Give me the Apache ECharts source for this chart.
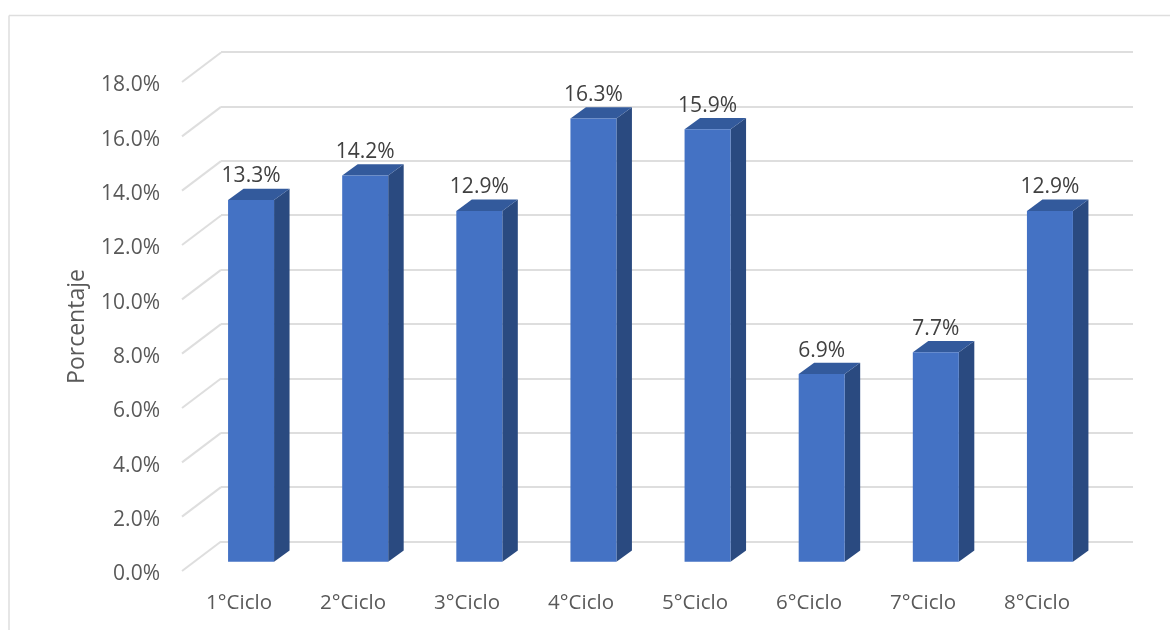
<!DOCTYPE html>
<html>
<head>
<meta charset="utf-8">
<style>html,body{margin:0;padding:0;background:#fff}#c{width:1170px;height:630px}</style>
<script src="https://cdn.jsdelivr.net/npm/echarts@6/dist/echarts.min.js"></script>
</head>
<body>
<div id="c"></div>
<script>
const categories = ['1°Ciclo','2°Ciclo','3°Ciclo','4°Ciclo','5°Ciclo','6°Ciclo','7°Ciclo','8°Ciclo'];
const values = [13.3,14.2,12.9,16.3,15.9,6.9,7.7,12.9];
const yTicks = [0,2,4,6,8,10,12,14,16,18];
const axisName = 'Porcentaje';

const FONT = '"Open Sans", sans-serif';
const GRID = '#dedede';
const fmt = v => v.toFixed(1) + '%';
const chart = echarts.init(document.getElementById('c'), null, {renderer:'canvas'});

const hiddenY = i => ({type:'value',gridIndex:i,min:0,max:18,interval:2,show:false});
const hiddenX = i => ({type:'category',gridIndex:i,data:categories,show:false});

chart.setOption({
  backgroundColor:'#ffffff',
  animation:false,
  graphic:[
    {type:'line',silent:true,shape:{x1:9,y1:15.5,x2:9,y2:630},style:{stroke:'#dedede',lineWidth:1.5}},
    {type:'line',silent:true,shape:{x1:9,y1:15.5,x2:1170,y2:15.5},style:{stroke:'#dedede',lineWidth:1.5}}
  ],
  grid:[
    {left:221,top:52,width:912,height:489.5},    // back wall
    {left:182,top:82,width:912,height:489},      // front plane
    {left:194,top:72.2,width:913,height:489.5},  // plane of the bars' front faces
    {left:182,top:85.5,width:912,height:489}     // front plane, value labels
  ],
  xAxis:[
    hiddenX(0),
    {type:'category',gridIndex:1,data:categories,
      axisLine:{show:false},axisTick:{show:false},
      axisLabel:{color:'#595959',fontFamily:FONT,fontSize:20.5,margin:22}},
    hiddenX(2),
    hiddenX(3)
  ],
  yAxis:[
    {type:'value',gridIndex:0,min:0,max:18,interval:2,
      axisLine:{show:false},axisTick:{show:false},axisLabel:{show:false},
      splitLine:{show:true,lineStyle:{color:GRID,width:2}}},
    {type:'value',gridIndex:1,min:0,max:18,interval:2,
      axisLine:{show:false},axisTick:{show:false},splitLine:{show:false},axisLabel:{show:false},
      name:axisName,nameLocation:'middle',nameGap:93,
      nameTextStyle:{color:'#595959',fontFamily:FONT,fontSize:23}},
    hiddenY(2),
    {type:'value',gridIndex:3,min:0,max:18,interval:2,
      axisLine:{show:false},axisTick:{show:false},splitLine:{show:false},
      axisLabel:{color:'#595959',fontFamily:FONT,fontSize:21,margin:22,formatter:fmt}}
  ],
  series:[
    {
      type:'custom',xAxisIndex:1,yAxisIndex:1,silent:true,z:1,clip:false,
      data:yTicks.map(v=>[0,v]),
      renderItem(params,api){
        const y = api.coord([0,api.value(1)])[1];
        const x = params.coordSys.x;
        return {type:'line',shape:{x1:x,y1:y,x2:x+39,y2:y-29.5},
          style:{stroke:GRID,lineWidth:2,fill:null}};
      }
    },
    {
      type:'custom',xAxisIndex:2,yAxisIndex:2,silent:true,z:3,clip:false,
      data:values.map((v,i)=>[i,v]),
      renderItem(params,api){
        const v = api.value(1);
        const c = api.coord([api.value(0),v]);
        const b = api.coord([api.value(0),0]);
        const w = api.size([1,0])[0]*0.403;
        const dx = 15.5, dy = -11.3;
        const l = c[0]-w/2, r = c[0]+w/2, t = c[1], bot = b[1];
        return {type:'group',children:[
          {type:'polygon',shape:{points:[[r,t],[r+dx,t+dy],[r+dx,bot+dy],[r,bot]]},
            style:{fill:'#2a4a80'}},
          {type:'polygon',shape:{points:[[l,t],[l+dx,t+dy],[r+dx,t+dy],[r,t]]},
            style:{fill:'#335a9c'}},
          {type:'rect',shape:{x:l,y:t,width:w,height:bot-t},
            style:{fill:'#4472c4'}},
          {type:'text',style:{text:fmt(v),x:c[0],y:t-23.5,align:'center',verticalAlign:'middle',
            fill:'#404040',font:'21px '+FONT}}
        ]};
      }
    }
  ]
});
</script>
</body>
</html>
